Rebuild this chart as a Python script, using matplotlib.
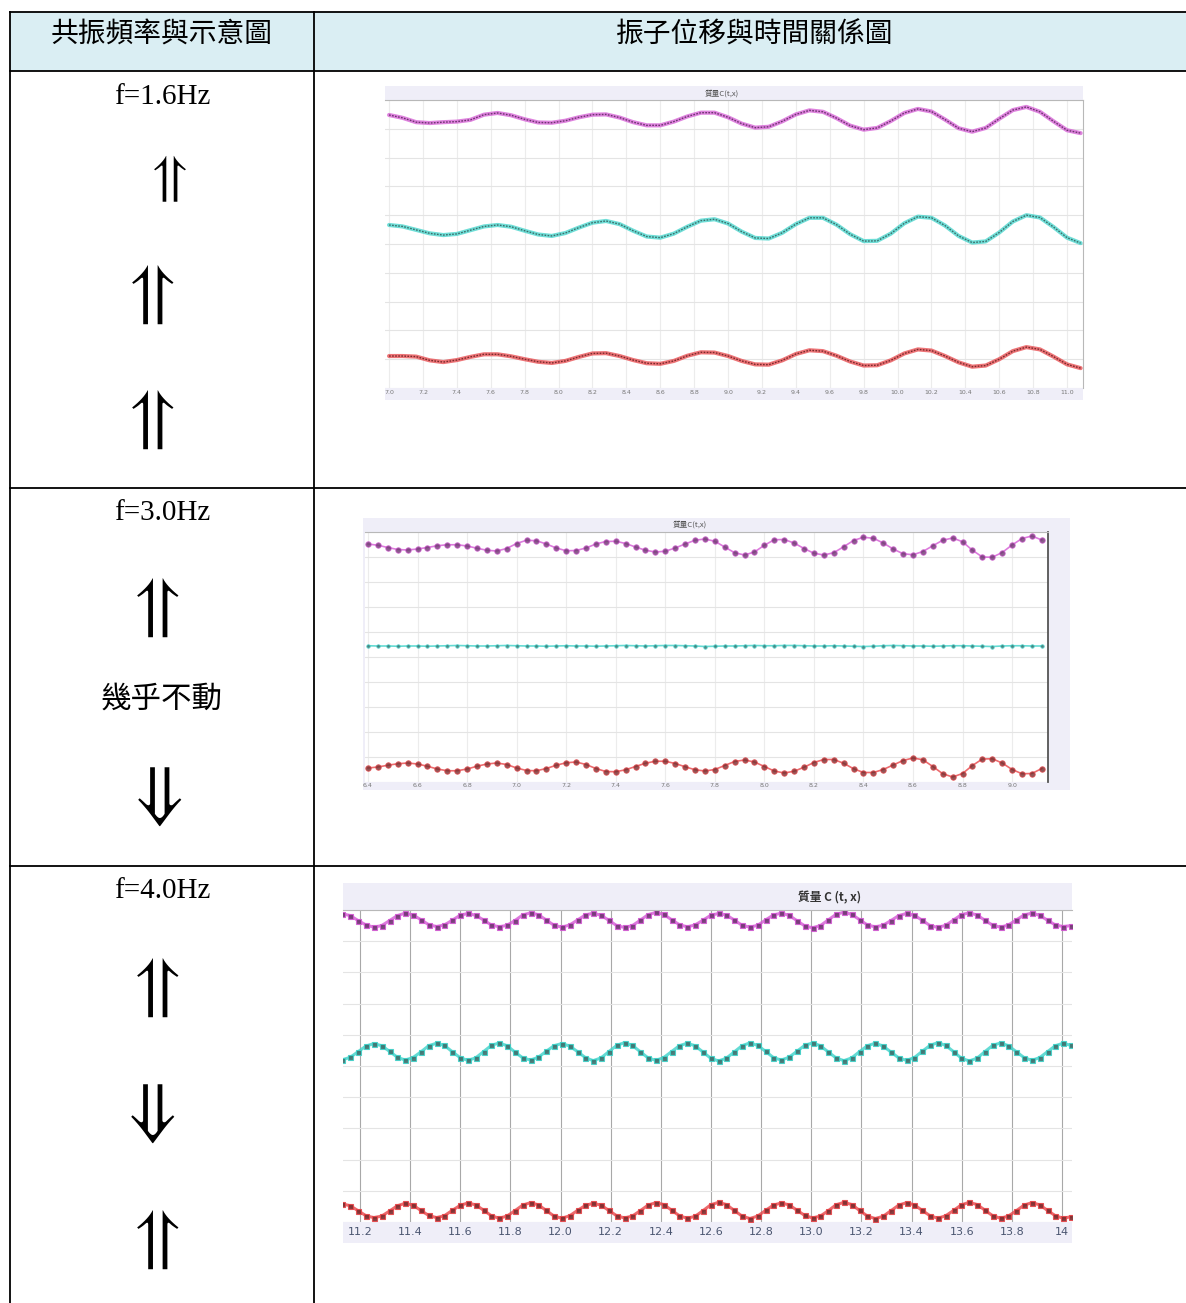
import numpy as np
import matplotlib
matplotlib.use("Agg")
from matplotlib import pyplot as plt
from matplotlib.patches import Rectangle

# table text
header_left = "共振頻率與示意圖"
header_right = "振子位移與時間關係圖"
freq_labels = ["f=1.6Hz", "f=3.0Hz", "f=4.0Hz"]
row_marks = [["⥣", "⥣", "⥣"], ["⥣", "幾乎不動", "⇓"], ["⥣", "⇓", "⥣"]]
chart_titles = ["質量C(t,x)", "質量C(t,x)", "質量 C (t, x)"]

# chart 1, f = 1.6 Hz (t in s, sampled every 0.08 s)
t1 = np.round(7.0 + 0.08 * np.arange(52), 2)
top1 = [9.48, 9.38, 9.23, 9.20, 9.23, 9.25, 9.31, 9.49, 9.55, 9.47,
        9.33, 9.22, 9.21, 9.28, 9.40, 9.49, 9.50, 9.39, 9.23, 9.12,
        9.12, 9.25, 9.43, 9.56, 9.56, 9.40, 9.18, 9.04, 9.07, 9.26,
        9.50, 9.64, 9.59, 9.37, 9.11, 8.97, 9.03, 9.27, 9.55, 9.69,
        9.60, 9.32, 9.02, 8.90, 9.03, 9.35, 9.65, 9.76, 9.59, 9.26,
        8.95, 8.85]
mid1 = [5.66, 5.61, 5.49, 5.37, 5.31, 5.35, 5.48, 5.61, 5.66, 5.60,
        5.46, 5.33, 5.28, 5.38, 5.57, 5.74, 5.80, 5.69, 5.46, 5.26,
        5.22, 5.36, 5.60, 5.81, 5.86, 5.71, 5.43, 5.21, 5.19, 5.39,
        5.69, 5.91, 5.91, 5.67, 5.34, 5.10, 5.11, 5.36, 5.72, 5.95,
        5.91, 5.64, 5.28, 5.05, 5.09, 5.40, 5.78, 6.00, 5.92, 5.59,
        5.22, 5.03]
bot1 = [1.11, 1.11, 1.09, 0.96, 0.90, 0.97, 1.08, 1.17, 1.17, 1.10,
        1.00, 0.91, 0.87, 0.94, 1.08, 1.20, 1.21, 1.11, 0.97, 0.86,
        0.84, 0.94, 1.12, 1.24, 1.23, 1.11, 0.94, 0.82, 0.81, 0.96,
        1.18, 1.31, 1.28, 1.12, 0.92, 0.78, 0.79, 0.96, 1.20, 1.34,
        1.30, 1.11, 0.89, 0.74, 0.78, 1.00, 1.28, 1.42, 1.34, 1.09,
        0.82, 0.69]

# chart 2, f = 3.0 Hz (sampled every 0.04 s)
t2 = np.round(6.4 + 0.04 * np.arange(69), 2)
top2 = [9.52, 9.47, 9.38, 9.30, 9.28, 9.32, 9.38, 9.45, 9.49, 9.49,
        9.44, 9.35, 9.27, 9.24, 9.34, 9.54, 9.67, 9.65, 9.52, 9.36,
        9.25, 9.26, 9.36, 9.52, 9.62, 9.63, 9.54, 9.40, 9.27, 9.20,
        9.23, 9.36, 9.52, 9.67, 9.72, 9.63, 9.40, 9.17, 9.08, 9.20,
        9.47, 9.69, 9.70, 9.56, 9.34, 9.15, 9.08, 9.17, 9.41, 9.66,
        9.79, 9.75, 9.56, 9.32, 9.13, 9.09, 9.22, 9.45, 9.67, 9.76,
        9.61, 9.27, 9.00, 8.99, 9.18, 9.48, 9.74, 9.84, 9.68]
mid2 = [5.45, 5.44, 5.44, 5.43, 5.44, 5.44, 5.43, 5.44, 5.45, 5.46,
        5.45, 5.44, 5.44, 5.45, 5.46, 5.45, 5.44, 5.44, 5.43, 5.44,
        5.45, 5.44, 5.44, 5.43, 5.44, 5.45, 5.46, 5.45, 5.44, 5.45,
        5.46, 5.46, 5.45, 5.44, 5.42, 5.43, 5.44, 5.44, 5.45, 5.46,
        5.45, 5.45, 5.46, 5.46, 5.45, 5.44, 5.44, 5.45, 5.44, 5.43,
        5.42, 5.43, 5.45, 5.46, 5.45, 5.44, 5.44, 5.43, 5.44, 5.45,
        5.45, 5.44, 5.43, 5.42, 5.44, 5.45, 5.45, 5.44, 5.44]
bot2 = [0.56, 0.60, 0.67, 0.73, 0.76, 0.72, 0.63, 0.52, 0.45, 0.45,
        0.52, 0.63, 0.72, 0.76, 0.70, 0.56, 0.46, 0.45, 0.54, 0.67,
        0.77, 0.80, 0.70, 0.54, 0.42, 0.41, 0.49, 0.62, 0.75, 0.83,
        0.83, 0.74, 0.61, 0.49, 0.44, 0.50, 0.66, 0.82, 0.88, 0.80,
        0.62, 0.44, 0.36, 0.43, 0.59, 0.78, 0.90, 0.90, 0.75, 0.53,
        0.38, 0.38, 0.50, 0.68, 0.86, 0.96, 0.89, 0.62, 0.33, 0.20,
        0.34, 0.66, 0.92, 0.93, 0.76, 0.50, 0.33, 0.34, 0.54]

# chart 3, f = 4.0 Hz (sampled every 1/32 s)
t3 = 11.13 + 0.03125 * np.arange(94)
top3 = [9.88, 9.82, 9.66, 9.52, 9.45, 9.50, 9.66, 9.82,
        9.90, 9.84, 9.69, 9.53, 9.47, 9.52, 9.67, 9.83,
        9.89, 9.83, 9.68, 9.52, 9.46, 9.51, 9.66, 9.84,
        9.91, 9.85, 9.68, 9.51, 9.45, 9.52, 9.68, 9.84,
        9.90, 9.83, 9.67, 9.50, 9.44, 9.50, 9.67, 9.85,
        9.92, 9.86, 9.69, 9.53, 9.46, 9.52, 9.67, 9.83,
        9.89, 9.84, 9.68, 9.51, 9.45, 9.51, 9.68, 9.84,
        9.90, 9.83, 9.66, 9.49, 9.43, 9.50, 9.68, 9.86,
        9.93, 9.86, 9.69, 9.52, 9.46, 9.51, 9.66, 9.82,
        9.89, 9.83, 9.67, 9.50, 9.44, 9.51, 9.68, 9.85,
        9.91, 9.84, 9.67, 9.51, 9.45, 9.52, 9.68, 9.84,
        9.90, 9.83, 9.67, 9.52, 9.47, 9.50]
mid3 = [5.20, 5.28, 5.46, 5.64, 5.72, 5.65, 5.47, 5.28,
        5.19, 5.27, 5.45, 5.65, 5.73, 5.66, 5.46, 5.27,
        5.18, 5.26, 5.46, 5.66, 5.74, 5.65, 5.45, 5.26,
        5.19, 5.28, 5.47, 5.65, 5.72, 5.64, 5.46, 5.27,
        5.17, 5.26, 5.46, 5.66, 5.75, 5.66, 5.46, 5.26,
        5.18, 5.27, 5.46, 5.65, 5.73, 5.65, 5.45, 5.25,
        5.16, 5.25, 5.45, 5.65, 5.74, 5.66, 5.47, 5.27,
        5.19, 5.28, 5.47, 5.66, 5.74, 5.65, 5.45, 5.26,
        5.17, 5.26, 5.46, 5.65, 5.73, 5.64, 5.45, 5.26,
        5.18, 5.27, 5.47, 5.66, 5.75, 5.66, 5.46, 5.25,
        5.16, 5.25, 5.46, 5.66, 5.74, 5.65, 5.46, 5.27,
        5.18, 5.27, 5.46, 5.65, 5.73, 5.66]
bot3 = [0.58, 0.52, 0.36, 0.20, 0.14, 0.19, 0.35, 0.52,
        0.60, 0.54, 0.37, 0.21, 0.14, 0.20, 0.37, 0.53,
        0.61, 0.55, 0.38, 0.20, 0.12, 0.19, 0.36, 0.54,
        0.62, 0.55, 0.37, 0.19, 0.12, 0.20, 0.37, 0.53,
        0.60, 0.54, 0.37, 0.20, 0.13, 0.19, 0.36, 0.54,
        0.62, 0.56, 0.38, 0.20, 0.12, 0.18, 0.36, 0.55,
        0.63, 0.56, 0.37, 0.19, 0.11, 0.19, 0.37, 0.54,
        0.61, 0.55, 0.38, 0.21, 0.13, 0.19, 0.36, 0.55,
        0.63, 0.56, 0.37, 0.19, 0.11, 0.18, 0.36, 0.54,
        0.62, 0.55, 0.37, 0.20, 0.12, 0.20, 0.37, 0.55,
        0.63, 0.56, 0.38, 0.20, 0.12, 0.19, 0.36, 0.54,
        0.62, 0.55, 0.37, 0.20, 0.12, 0.17]

# x tick labels of the three charts
ticks1 = [7.0 + 0.2 * i for i in range(21)]
labels1 = ["%.1f" % v for v in ticks1]
ticks2 = [6.4 + 0.2 * i for i in range(14)]
labels2 = ["%.1f" % v for v in ticks2]
ticks3 = [11.2 + 0.2 * i for i in range(15)]
labels3 = ["%.1f" % v for v in ticks3[:-1]] + ["14"]

W, H = 1186, 1303
CJK = ["Noto Sans CJK TC", "DejaVu Sans"]
SERIF = ["Liberation Serif", "DejaVu Serif"]
ARROWS = ["STIXGeneral", "STIXNonUnicode", "DejaVu Sans", "DejaVu Sans Mono"]
MAG, MAG_D = "#d45ad4", "#6e3470"
TEAL, TEAL_D = "#3fd3ca", "#3c6e6b"
RED, RED_D = "#e8464a", "#7a2a2c"
LAV = "#efeef8"

fig = plt.figure(figsize=(W / 100, H / 100), dpi=100)
bg = fig.add_axes([0, 0, 1, 1])
bg.set_xlim(0, W)
bg.set_ylim(H, 0)
bg.axis("off")


def px_axes(x0, y0, x1, y1):
    return fig.add_axes([x0 / W, 1 - y1 / H, (x1 - x0) / W, (y1 - y0) / H])


# table
bg.add_patch(Rectangle((10, 12), W - 10, 59, facecolor="#daeef3", edgecolor="none"))
lw = 1.3
bg.plot([10, W], [12, 12], color="black", lw=lw)
for y in [71, 488, 866]:
    bg.plot([10, W], [y, y], color="black", lw=lw)
bg.plot([10, 10], [12, H], color="black", lw=lw)
bg.plot([314, 314], [12, H], color="black", lw=lw)

bg.text(162, 35, header_left, family=CJK, fontsize=20, ha="center", va="center")
bg.text(755, 35, header_right, family=CJK, fontsize=20, ha="center", va="center")

freq_y = [97, 513, 891]
for lab, y in zip(freq_labels, freq_y):
    bg.text(162, y, lab, family=SERIF, fontsize=21, ha="center", va="center")

mark_pos = [[(170, 179), (153, 296), (153, 421)],
            [(158, 609), (162, 699), (160, 798)],
            [(158, 989), (153, 1115), (158, 1241)]]
for marks, pos in zip(row_marks, mark_pos):
    for m, (x, y) in zip(marks, pos):
        if len(m) > 1:
            bg.text(x, y, m, family=CJK, fontsize=22, ha="center", va="center")
        else:
            size = 40 if (x, y) == (170, 179) else 52
            bg.text(x, y, m, family=ARROWS, fontsize=size,
                    ha="center", va="center")


def setup(ax, xlim, ticks, labels, fsize, pad, lab_color, vgrid):
    ax.set_xlim(*xlim)
    ax.set_ylim(0, 10)
    ax.set_xticks(ticks)
    ax.set_xticklabels(labels, fontsize=fsize, color=lab_color)
    ax.set_yticks(range(11))
    ax.set_yticklabels([])
    ax.tick_params(length=0, pad=pad)
    ax.grid(axis="y", color="#e4e4e4", lw=0.8)
    ax.grid(axis="x", color=vgrid, lw=0.8)
    ax.set_axisbelow(True)
    for s in ["left", "bottom"]:
        ax.spines[s].set_visible(False)
    ax.spines["top"].set_color("#b8b8b8")
    ax.spines["right"].set_color("#b8b8b8")


# chart 1
bg.add_patch(Rectangle((385, 86), 698, 314, facecolor=LAV, edgecolor="none"))
bg.text(722, 94, chart_titles[0], family=CJK, fontsize=5.5, color="#555555",
        ha="center", va="center")
ax1 = px_axes(385, 100, 1083, 388)
setup(ax1, (6.976, 11.094), ticks1, labels1, 4.5, 1.5, "#777777", "#ececec")
for y, c, d in [(top1, MAG, MAG_D), (mid1, TEAL, TEAL_D), (bot1, RED, RED_D)]:
    ax1.plot(t1, y, color=c, lw=3, alpha=0.75, solid_capstyle="round")
    ax1.plot(t1, y, color=d, lw=1.0, ls=(0, (1.2, 1.0)))

# chart 2
bg.add_patch(Rectangle((363, 518), 707, 272, facecolor=LAV, edgecolor="none"))
bg.text(690, 525, chart_titles[1], family=CJK, fontsize=5.5, color="#555555",
        ha="center", va="center")
ax2 = px_axes(365, 532, 1048, 782)
setup(ax2, (6.388, 9.145), ticks2, labels2, 4.5, 1.0, "#777777", "#ececec")
ax2.spines["right"].set_color("#555555")
ax2.spines["right"].set_linewidth(1.3)
for y, c, d, ms in [(top2, MAG, MAG_D, 4.0), (mid2, TEAL, TEAL_D, 2.5),
                    (bot2, RED, RED_D, 4.0)]:
    ax2.plot(t2, y, color=c, lw=1.2, alpha=0.8)
    ax2.plot(t2, y, "o", ms=ms, mfc=d, mec=c, mew=0.6, alpha=0.8)

# chart 3
bg.add_patch(Rectangle((343, 883), 729, 360, facecolor=LAV, edgecolor="none"))
bg.text(830, 898, chart_titles[2], family=CJK, fontsize=8.5, color="#333333",
        fontweight="bold", ha="center", va="center")
ax3 = px_axes(343, 910, 1072, 1222)
setup(ax3, (11.132, 14.04), ticks3, labels3, 8, 3.5, "#4a5570", "#a8a8a8")
ax3.spines["right"].set_visible(False)
for y, c, d in [(top3, MAG, MAG_D), (mid3, TEAL, TEAL_D), (bot3, RED, RED_D)]:
    ax3.plot(t3, y, color=c, lw=2.2, alpha=0.8)
    ax3.plot(t3, y, "s", ms=3.6, mfc=d, mec=c, mew=0.8, alpha=0.9)

fig.savefig("out.png", dpi=100)
